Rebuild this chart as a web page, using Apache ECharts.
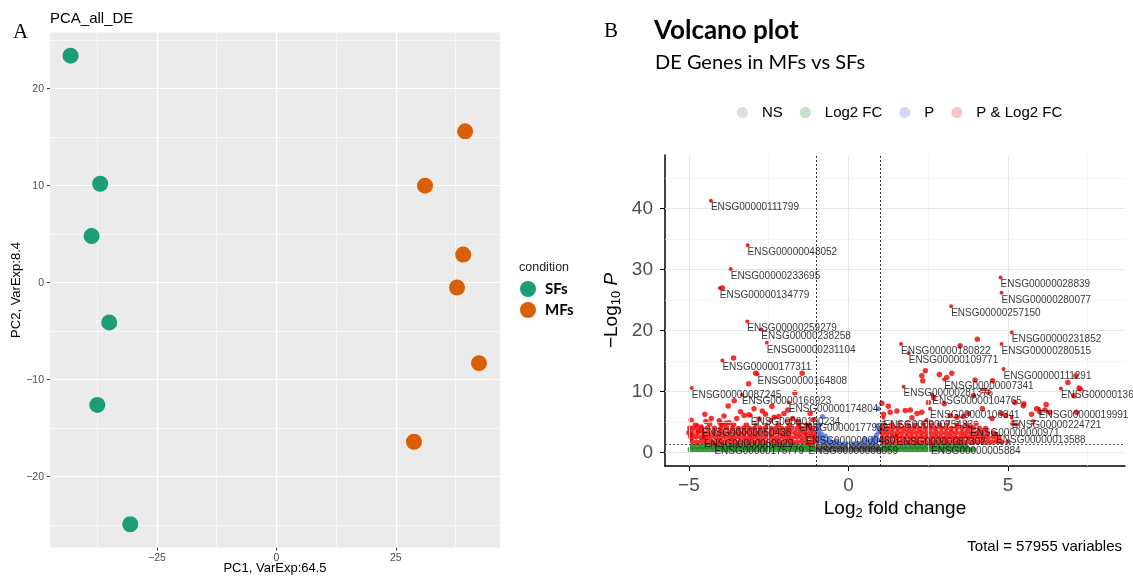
<!DOCTYPE html>
<html>
<head>
<meta charset="utf-8">
<script src="https://cdn.jsdelivr.net/npm/echarts@6.0.0/dist/echarts.min.js"></script>
<style>
  html, body { margin: 0; padding: 0; background: #fff; }
  #chart { width: 1133px; height: 576px; }
</style>
</head>
<body>
<div id="chart"></div>
<script>
  // ---- panel A : PCA ----
  const pcaSF = [[-43.1, 23.4], [-36.9, 10.2], [-38.7, 4.8], [-35.0, -4.1], [-37.5, -12.6], [-30.6, -24.9]];
  const pcaMF = [[39.5, 15.6], [31.1, 10.0], [39.1, 2.9], [37.8, -0.5], [42.4, -8.3], [28.8, -16.4]];
  const pcaXTicks = [-25, 0, 25];
  const pcaYTicks = [-20, -10, 0, 10, 20];
  const pcaXMinor = [-37.5, -12.5, 12.5, 37.5];
  const pcaYMinor = [-25, -15, -5, 5, 15, 25];

  // ---- panel B : volcano ----
  const volXTicks = [-5, 0, 5];
  const volYTicks = [0, 10, 20, 30, 40];
  const volXMinor = [-2.5, 2.5, 7.5];
  const volYMinor = [5, 15, 25, 35, 45];
  const fcCut = [-1, 1];
  const pCut = [1.3];

  const geneLabels = [
    [-4.31, 41.3, 'ENSG00000111799'], [-3.16, 34.0, 'ENSG00000048052'], [-3.69, 30.1, 'ENSG00000233695'],
    [-4.03, 27.0, 'ENSG00000134779'], [-3.17, 21.5, 'ENSG00000259279'], [-2.73, 20.2, 'ENSG00000238258'],
    [-2.56, 18.0, 'ENSG00000231104'], [-3.95, 15.1, 'ENSG00000177311'], [-2.85, 12.9, 'ENSG00000164808'],
    [-4.91, 10.6, 'ENSG00000087245'], [-3.34, 9.5, 'ENSG00000166923'], [-1.87, 8.2, 'ENSG00000174804'],
    [-3.06, 6.1, 'ENSG00000100234'], [-1.56, 5.2, 'ENSG00000177932'], [-4.6, 4.3, 'ENSG00000050438'],
    [-4.53, 2.5, 'ENSG00000050929'], [-4.2, 1.35, 'ENSG00000175779'], [-1.34, 3.0, 'ENSG00000000460'],
    [-1.25, 1.35, 'ENSG00000006059'],
    [4.77, 28.7, 'ENSG00000028839'], [4.8, 26.2, 'ENSG00000280077'], [3.22, 24.0, 'ENSG00000257150'],
    [5.12, 19.7, 'ENSG00000231852'], [4.8, 17.8, 'ENSG00000280515'], [1.65, 17.8, 'ENSG00000180822'],
    [1.89, 16.3, 'ENSG00000109771'], [4.86, 13.7, 'ENSG00000111291'], [3.0, 12.0, 'ENSG00000007341'],
    [1.73, 10.8, 'ENSG00000281376'], [2.63, 9.5, 'ENSG00000104765'], [6.66, 10.5, 'ENSG00000136859'],
    [2.56, 7.2, 'ENSG00000106341'], [5.97, 7.2, 'ENSG00000019991'], [1.1, 5.7, 'ENSG00000075483'],
    [5.12, 5.7, 'ENSG00000224721'], [3.81, 4.3, 'ENSG00000000971'], [1.5, 2.8, 'ENSG00000087302'],
    [4.63, 3.1, 'ENSG00000013588'], [2.59, 1.35, 'ENSG00000005884']
  ];

  // scattered significant genes
  const redPoints = [
    [-3.95, 27.0], [-3.6, 15.5], [-2.91, 13.0], [-1.45, 13.0], [-3.13, 11.3], [-1.68, 9.8], [-3.58, 8.5],
    [-3.77, 7.65], [-2.96, 7.2], [-3.27, 6.1], [-3.12, 6.2], [-2.7, 6.8], [-2.6, 6.3], [-2.33, 5.8],
    [-2.18, 5.9], [-2.02, 6.4], [-4.47, 5.1], [-4.05, 5.2], [-4.02, 4.8], [-3.84, 4.8], [-3.74, 4.9],
    [-4.97, 4.05], [-5.0, 3.3], [-4.94, 2.8], [-4.73, 4.3], [-4.7, 3.6], [-4.93, 5.3], [-3.38, 6.7],
    [-1.6, 5.0], [-1.3, 4.6], [-3.9, 6.0], [-3.5, 5.6], [-2.8, 5.5], [-2.45, 5.2], [-1.9, 5.1],
    [-4.3, 5.6], [-2.4, 7.6], [-1.9, 7.0], [-1.2, 6.4], [-1.1, 5.4], [-4.5, 6.3], [-1.75, 5.6],
    [2.41, 13.4], [2.3, 12.6], [2.33, 11.8], [2.85, 12.8], [3.08, 12.3], [3.24, 13.0], [3.97, 11.9],
    [4.52, 11.8], [4.23, 10.2], [4.38, 9.9], [3.92, 9.3], [2.51, 8.2], [2.67, 9.0], [5.5, 8.0],
    [4.04, 18.6], [3.5, 17.5], [6.88, 11.5], [7.23, 10.6], [7.13, 12.6], [7.07, 9.3], [7.28, 10.3],
    [6.2, 7.9], [6.0, 6.7], [5.9, 7.2], [6.16, 7.0], [6.31, 6.6], [7.15, 6.6], [5.48, 7.7], [5.22, 8.2],
    [5.79, 5.0], [5.15, 4.8], [5.27, 4.7], [5.74, 6.3], [4.8, 6.4], [4.94, 6.1], [1.1, 6.3], [1.31, 6.6],
    [1.52, 6.8], [1.78, 6.9], [1.94, 7.0], [2.15, 6.4], [2.3, 6.6], [1.99, 5.7], [2.46, 5.2], [3.19, 6.1],
    [3.4, 5.8], [3.6, 5.9], [3.75, 6.4], [4.2, 7.2], [3.0, 8.0], [4.5, 5.6], [1.25, 7.6], [1.05, 8.1]
  ];

  // dense band of significant genes just above the p cut-off
  const redBand = [
    [-4.9, 1.8], [-4.75, 1.7], [-4.6, 1.8], [-4.45, 1.7], [-4.3, 1.75], [-4.14, 1.8], [-4.0, 1.7], [-3.85, 1.75],
    [-3.7, 1.8], [-3.55, 1.7], [-3.4, 1.75], [-3.25, 1.8], [-3.1, 1.7], [-2.95, 1.75], [-2.8, 1.8], [-2.65, 1.7],
    [-2.5, 1.75], [-2.35, 1.8], [-2.2, 1.7], [-2.05, 1.75], [-1.9, 1.8], [-1.75, 1.7], [-1.6, 1.75], [-1.45, 1.8],
    [-1.3, 1.7], [-1.15, 1.75], [-1.05, 1.8],
    [-4.93, 2.45], [-4.78, 2.6], [-4.62, 2.5], [-4.48, 2.45], [-4.33, 2.6], [-4.17, 2.5], [-4.03, 2.45], [-3.88, 2.6],
    [-3.72, 2.5], [-3.58, 2.45], [-3.43, 2.6], [-3.27, 2.5], [-3.12, 2.45], [-2.98, 2.6], [-2.83, 2.5], [-2.67, 2.45],
    [-2.52, 2.6], [-2.38, 2.5], [-2.23, 2.45], [-2.07, 2.6], [-1.92, 2.5], [-1.78, 2.45], [-1.63, 2.6], [-1.48, 2.5],
    [-1.33, 2.45], [-1.18, 2.6], [-1.06, 2.5],
    [-4.9, 3.2], [-4.72, 3.3], [-4.55, 3.25], [-4.4, 3.2], [-4.22, 3.3], [-4.05, 3.25], [-3.9, 3.2], [-3.74, 3.3],
    [-3.57, 3.25], [-3.41, 3.2], [-3.26, 3.3], [-3.1, 3.25], [-2.93, 3.2], [-2.78, 3.3], [-2.62, 3.25], [-2.46, 3.2],
    [-2.3, 3.3], [-2.15, 3.25], [-1.99, 3.2], [-1.84, 3.3], [-1.68, 3.25], [-1.52, 3.2], [-1.37, 3.3], [-1.21, 3.25],
    [-1.07, 3.2],
    [-4.85, 4.0], [-4.6, 3.95], [-4.42, 4.05], [-4.2, 4.0], [-4.0, 3.95], [-3.82, 4.05], [-3.63, 4.0], [-3.45, 3.95],
    [-3.28, 4.05], [-3.11, 4.0], [-2.95, 3.95], [-2.77, 4.05], [-2.6, 4.0], [-2.43, 3.95], [-2.27, 4.05], [-2.1, 4.0],
    [-1.93, 3.95], [-1.77, 4.05], [-1.6, 4.0], [-1.44, 3.95], [-1.28, 4.05], [-1.12, 4.0],
    [-4.8, 4.6], [-4.35, 4.7], [-3.95, 4.55], [-3.6, 4.65], [-3.2, 4.6], [-2.9, 4.7], [-2.55, 4.55], [-2.2, 4.65],
    [-1.85, 4.6], [-1.55, 4.7], [-1.25, 4.55],
    [1.06, 1.8], [1.2, 1.7], [1.35, 1.75], [1.5, 1.8], [1.65, 1.7], [1.8, 1.75], [1.95, 1.8], [2.1, 1.7],
    [2.25, 1.75], [2.4, 1.8], [2.55, 1.7], [2.7, 1.75], [2.85, 1.8], [3.0, 1.7], [3.15, 1.75], [3.3, 1.8],
    [3.45, 1.7], [3.6, 1.75], [3.75, 1.8], [3.9, 1.7], [4.05, 1.75], [4.2, 1.8], [4.35, 1.7], [4.5, 1.75],
    [4.65, 1.8], [4.8, 1.7], [5.0, 1.75],
    [1.08, 2.5], [1.23, 2.45], [1.38, 2.6], [1.53, 2.5], [1.68, 2.45], [1.83, 2.6], [1.98, 2.5], [2.13, 2.45],
    [2.28, 2.6], [2.43, 2.5], [2.58, 2.45], [2.73, 2.6], [2.88, 2.5], [3.03, 2.45], [3.18, 2.6], [3.33, 2.5],
    [3.48, 2.45], [3.63, 2.6], [3.78, 2.5], [3.93, 2.45], [4.08, 2.6], [4.23, 2.5], [4.38, 2.45], [4.55, 2.6],
    [4.72, 2.5],
    [1.05, 3.25], [1.2, 3.2], [1.36, 3.3], [1.52, 3.25], [1.67, 3.2], [1.83, 3.3], [1.98, 3.25], [2.14, 3.2],
    [2.3, 3.3], [2.45, 3.25], [2.6, 3.2], [2.76, 3.3], [2.92, 3.25], [3.07, 3.2], [3.23, 3.3], [3.38, 3.25],
    [3.54, 3.2], [3.7, 3.3], [3.86, 3.25], [4.02, 3.2], [4.18, 3.3], [4.35, 3.25], [4.55, 3.2],
    [1.07, 4.0], [1.24, 3.95], [1.4, 4.05], [1.57, 4.0], [1.73, 3.95], [1.9, 4.05], [2.06, 4.0], [2.23, 3.95],
    [2.4, 4.05], [2.56, 4.0], [2.72, 3.95], [2.9, 4.05], [3.06, 4.0], [3.22, 3.95], [3.4, 4.05], [3.57, 4.0],
    [3.75, 3.95], [3.92, 4.05], [4.1, 4.0], [4.3, 3.95],
    [1.1, 4.75], [1.35, 4.7], [1.6, 4.8], [1.85, 4.75], [2.1, 4.7], [2.35, 4.8], [2.6, 4.75], [2.85, 4.7],
    [3.1, 4.8], [3.4, 4.75], [3.7, 4.7], [4.0, 4.8]
  ];

  // large fold change, not significant
  const greenPoints = [
    [-4.95, 0.5], [-4.8, 0.45], [-4.65, 0.5], [-4.5, 0.45], [-4.35, 0.5], [-4.2, 0.45], [-4.05, 0.5], [-3.9, 0.45],
    [-3.75, 0.5], [-3.6, 0.45], [-3.45, 0.5], [-3.3, 0.45], [-3.15, 0.5], [-3.0, 0.45], [-2.85, 0.5], [-2.7, 0.45],
    [-2.55, 0.5], [-2.4, 0.45], [-2.25, 0.5], [-2.1, 0.45], [-1.95, 0.5], [-1.8, 0.45], [-1.65, 0.5], [-1.5, 0.45],
    [-1.35, 0.5], [-1.2, 0.45], [-1.06, 0.5],
    [-4.88, 1.0], [-4.72, 1.05], [-4.57, 1.0], [-4.42, 1.05], [-4.27, 1.0], [-4.12, 1.05], [-3.97, 1.0], [-3.82, 1.05],
    [-3.67, 1.0], [-3.52, 1.05], [-3.37, 1.0], [-3.22, 1.05], [-3.07, 1.0], [-2.92, 1.05], [-2.77, 1.0], [-2.62, 1.05],
    [-2.47, 1.0], [-2.32, 1.05], [-2.17, 1.0], [-2.02, 1.05], [-1.87, 1.0], [-1.72, 1.05], [-1.57, 1.0], [-1.42, 1.05],
    [-1.27, 1.0], [-1.12, 1.05],
    [1.06, 0.5], [1.2, 0.45], [1.35, 0.5], [1.5, 0.45], [1.65, 0.5], [1.8, 0.45], [1.95, 0.5], [2.1, 0.45],
    [2.25, 0.5], [2.4, 0.45], [2.55, 0.5], [2.7, 0.45], [2.85, 0.5], [3.0, 0.45], [3.15, 0.5], [3.3, 0.45],
    [3.45, 0.5], [3.6, 0.45], [3.75, 0.5], [3.9, 0.45],
    [1.12, 1.0], [1.27, 1.05], [1.42, 1.0], [1.57, 1.05], [1.72, 1.0], [1.87, 1.05], [2.02, 1.0], [2.17, 1.05],
    [2.32, 1.0], [2.47, 1.05], [2.62, 1.0], [2.77, 1.05], [2.92, 1.0], [3.07, 1.05], [3.22, 1.0], [3.37, 1.05],
    [3.52, 1.0], [3.67, 1.05]
  ];

  // significant p, small fold change
  const bluePoints = [
    [-0.97, 2.0], [-0.9, 2.6], [-0.85, 3.1], [-0.93, 3.6], [-0.8, 2.3], [-0.75, 1.8], [-0.97, 4.2], [-0.88, 4.6],
    [-0.68, 1.6], [-0.6, 2.1], [-0.55, 1.5], [-0.81, 5.9], [-0.95, 2.9], [-0.86, 1.9], [-0.72, 2.7], [-0.45, 1.6],
    [-0.3, 1.5], [-0.15, 1.45], [0.0, 1.5], [0.15, 1.45], [0.3, 1.55], [0.45, 1.6], [0.6, 1.7], [0.7, 2.0],
    [0.8, 2.4], [0.88, 2.9], [0.95, 3.4], [0.92, 2.1], [0.85, 1.7], [0.97, 3.9], [0.9, 4.4], [0.94, 7.2],
    [0.75, 1.5], [-0.38, 1.9], [0.52, 2.2]
  ];

  // not significant
  const grayPoints = [
    [-0.95, 0.4], [-0.8, 0.45], [-0.65, 0.4], [-0.5, 0.45], [-0.35, 0.4], [-0.2, 0.45], [-0.05, 0.4], [0.1, 0.45],
    [0.25, 0.4], [0.4, 0.45], [0.55, 0.4], [0.7, 0.45], [0.85, 0.4], [0.96, 0.45],
    [-0.9, 0.95], [-0.75, 1.0], [-0.6, 0.95], [-0.45, 1.0], [-0.3, 0.95], [-0.15, 1.0], [0.0, 0.95], [0.15, 1.0],
    [0.3, 0.95], [0.45, 1.0], [0.6, 0.95], [0.75, 1.0], [0.9, 0.95]
  ];

  const fmt = (v) => (v < 0 ? '\u2212' + Math.abs(v) : String(v));
  const lineData = (vals, key, style) => vals.map((v) => ({ [key]: v, lineStyle: style }));

  const chart = echarts.init(document.getElementById('chart'), null, { renderer: 'canvas' });

  const pcaMajor = { color: '#ffffff', width: 1.2, type: 'solid' };
  const pcaMinorStyle = { color: '#ffffff', width: 0.6, type: 'solid' };
  const volMajor = { color: '#e6e6e6', width: 1, type: 'solid' };
  const volMinorStyle = { color: '#f2f2f2', width: 0.7, type: 'solid' };
  const dashed = { color: '#000', width: 0.8, type: [2, 2] };

  const option = {
    animation: false,
    textStyle: { fontFamily: 'Liberation Sans' },
    title: [
      { text: 'A', left: 13, top: 22, padding: 0,
        textStyle: { fontFamily: 'Liberation Serif', fontSize: 21, fontWeight: 'normal', color: '#000' } },
      { text: 'PCA_all_DE', left: 50, top: 11, padding: 0,
        textStyle: { fontSize: 15, fontWeight: 'normal', color: '#000' } },
      { text: 'condition', left: 519, top: 261, padding: 0,
        textStyle: { fontSize: 12.5, fontWeight: 'normal', color: '#222' } },
      { text: 'B', left: 604, top: 21, padding: 0,
        textStyle: { fontFamily: 'Liberation Serif', fontSize: 21, fontWeight: 'normal', color: '#000' } },
      { text: 'Volcano plot', left: 654, top: 18, padding: 0,
        textStyle: { fontFamily: 'Lato', fontSize: 26, fontWeight: 'bold', color: '#000' } },
      { text: 'DE Genes in MFs vs SFs', left: 655, top: 53, padding: 0,
        textStyle: { fontFamily: 'Lato', fontSize: 20, fontWeight: 'normal', color: '#000' } },
      { text: 'Total = 57955 variables', right: 11, top: 539, padding: 0,
        textStyle: { fontSize: 15, fontWeight: 'normal', color: '#000' } }
    ],
    legend: [
      {
        orient: 'vertical', left: 520, top: 281, itemWidth: 16, itemHeight: 16, itemGap: 5,
        icon: 'circle', selectedMode: false, padding: 0,
        data: ['SFs', 'MFs'],
        textStyle: { fontFamily: 'Lato', fontWeight: 'bold', fontSize: 15, color: '#000', padding: [0, 0, 0, 4] }
      },
      {
        orient: 'horizontal', left: 737, top: 105, itemWidth: 11, itemHeight: 11, itemGap: 17,
        icon: 'circle', selectedMode: false, padding: 0,
        data: [
          { name: 'NS', itemStyle: { color: '#cfcfcf' } },
          { name: 'Log2 FC', itemStyle: { color: '#b9dcb9' } },
          { name: 'P', itemStyle: { color: '#c3cdf3' } },
          { name: 'P & Log2 FC', itemStyle: { color: '#f6b8b8' } }
        ],
        textStyle: { fontSize: 15, color: '#000', padding: [0, 0, 0, 9] }
      }
    ],
    grid: [
      { left: 50, top: 32.4, width: 450, height: 515.1, show: true, backgroundColor: '#ebebeb',
        borderWidth: 0, containLabel: false, outerBoundsMode: 'none' },
      { left: 665, top: 155, width: 460, height: 311, show: false, containLabel: false, outerBoundsMode: 'none' }
    ],
    xAxis: [
      {
        gridIndex: 0, type: 'value', min: -47.4, max: 46.8,
        name: 'PC1, VarExp:64.5', nameLocation: 'middle', nameGap: 14, nameMoveOverlap: false,
        nameTextStyle: { fontSize: 13, color: '#000' },
        axisLine: { show: false, onZero: false },
        axisTick: { show: true, length: 3, customValues: pcaXTicks, lineStyle: { color: '#333' } },
        axisLabel: { customValues: pcaXTicks, formatter: fmt, fontSize: 10.5, color: '#4d4d4d', margin: 5 },
        splitLine: { show: false }
      },
      {
        gridIndex: 1, type: 'value', min: -5.75, max: 8.67,
        name: 'Log{sub|2} fold change', nameLocation: 'middle', nameGap: 32, nameMoveOverlap: false,
        nameTextStyle: { fontSize: 19, lineHeight: 22, color: '#000',
          rich: { sub: { fontSize: 13, lineHeight: 10, verticalAlign: 'bottom', color: '#000' } } },
        axisLine: { show: true, onZero: false, lineStyle: { color: '#000', width: 1.5 } },
        axisTick: { show: true, length: 5, customValues: volXTicks, lineStyle: { color: '#000', width: 1 } },
        axisLabel: { customValues: volXTicks, formatter: fmt, fontSize: 19, color: '#4d4d4d', margin: 10 },
        splitLine: { show: false }
      }
    ],
    yAxis: [
      {
        gridIndex: 0, type: 'value', min: -27.3, max: 25.8,
        name: 'PC2, VarExp:8.4', nameLocation: 'middle', nameGap: 27, nameMoveOverlap: false,
        nameTextStyle: { fontSize: 13, color: '#000' },
        axisLine: { show: false, onZero: false },
        axisTick: { show: true, length: 3, customValues: pcaYTicks, lineStyle: { color: '#333' } },
        axisLabel: { customValues: pcaYTicks, formatter: fmt, fontSize: 10.5, color: '#4d4d4d', margin: 6 },
        splitLine: { show: false }
      },
      {
        gridIndex: 1, type: 'value', min: -2.2, max: 48.8,
        name: '\u2212Log{sub|10} {it|P}', nameLocation: 'middle', nameGap: 42, nameMoveOverlap: false,
        nameTextStyle: { fontSize: 19, lineHeight: 22, color: '#000',
          rich: {
            sub: { fontSize: 13, lineHeight: 10, verticalAlign: 'bottom', color: '#000' },
            it: { fontSize: 19, fontStyle: 'italic', color: '#000' }
          } },
        axisLine: { show: true, onZero: false, lineStyle: { color: '#000', width: 1.5 } },
        axisTick: { show: true, length: 5, customValues: volYTicks, lineStyle: { color: '#000', width: 1 } },
        axisLabel: { customValues: volYTicks, formatter: fmt, fontSize: 19, color: '#4d4d4d', margin: 12 },
        splitLine: { show: false }
      }
    ],
    series: [
      {
        name: 'pcaGrid', type: 'scatter', xAxisIndex: 0, yAxisIndex: 0, data: [], z: 1, silent: true,
        markLine: {
          silent: true, symbol: ['none', 'none'], label: { show: false }, animation: false,
          data: [
            ...lineData(pcaXMinor, 'xAxis', pcaMinorStyle), ...lineData(pcaYMinor, 'yAxis', pcaMinorStyle),
            ...lineData(pcaXTicks, 'xAxis', pcaMajor), ...lineData(pcaYTicks, 'yAxis', pcaMajor)
          ]
        }
      },
      {
        name: 'SFs', type: 'scatter', xAxisIndex: 0, yAxisIndex: 0, data: pcaSF, symbolSize: 16, z: 5,
        itemStyle: { color: '#1b9e77', opacity: 1 }
      },
      {
        name: 'MFs', type: 'scatter', xAxisIndex: 0, yAxisIndex: 0, data: pcaMF, symbolSize: 16, z: 5,
        itemStyle: { color: '#d95f02', opacity: 1 }
      },
      {
        name: 'volGrid', type: 'scatter', xAxisIndex: 1, yAxisIndex: 1, data: [], z: 1, silent: true,
        markLine: {
          silent: true, symbol: ['none', 'none'], label: { show: false }, animation: false,
          data: [
            ...lineData(volXMinor, 'xAxis', volMinorStyle), ...lineData(volYMinor, 'yAxis', volMinorStyle),
            ...lineData(volXTicks, 'xAxis', volMajor), ...lineData(volYTicks, 'yAxis', volMajor)
          ]
        }
      },
      {
        name: 'NS', type: 'scatter', xAxisIndex: 1, yAxisIndex: 1, data: grayPoints, symbolSize: 6, z: 3,
        itemStyle: { color: '#3a3a3a', opacity: 0.7 }
      },
      {
        name: 'Log2 FC', type: 'scatter', xAxisIndex: 1, yAxisIndex: 1, data: greenPoints, symbolSize: 6, z: 3,
        itemStyle: { color: '#228b22', opacity: 0.85 }
      },
      {
        name: 'P', type: 'scatter', xAxisIndex: 1, yAxisIndex: 1, data: bluePoints, symbolSize: 5, z: 4,
        itemStyle: { color: '#4169e1', opacity: 0.8 }
      },
      {
        name: 'P & Log2 FC', type: 'scatter', xAxisIndex: 1, yAxisIndex: 1, data: redPoints.concat(redBand),
        symbolSize: 5.5, z: 4, itemStyle: { color: '#ee0000', opacity: 0.8 }
      },
      {
        name: 'cutoffs', type: 'scatter', xAxisIndex: 1, yAxisIndex: 1, data: [], z: 5, silent: true,
        markLine: {
          silent: true, symbol: ['none', 'none'], label: { show: false }, animation: false,
          data: [...lineData(fcCut, 'xAxis', dashed), ...lineData(pCut, 'yAxis', { color: '#333', width: 0.8, type: [2, 2] })]
        }
      },
      {
        name: 'labels', type: 'scatter', xAxisIndex: 1, yAxisIndex: 1, data: geneLabels, symbolSize: 4, z: 6,
        encode: { x: 0, y: 1 },
        itemStyle: { color: '#ee0000', opacity: 0.85 },
        label: {
          show: true, position: [2, 4], formatter: (p) => p.value[2],
          fontSize: 10, color: '#111', fontFamily: 'Liberation Sans'
        }
      }
    ]
  };

  chart.setOption(option);
  window.addEventListener('resize', function () {
    chart && chart.resize();
  });
</script>
</body>
</html>
